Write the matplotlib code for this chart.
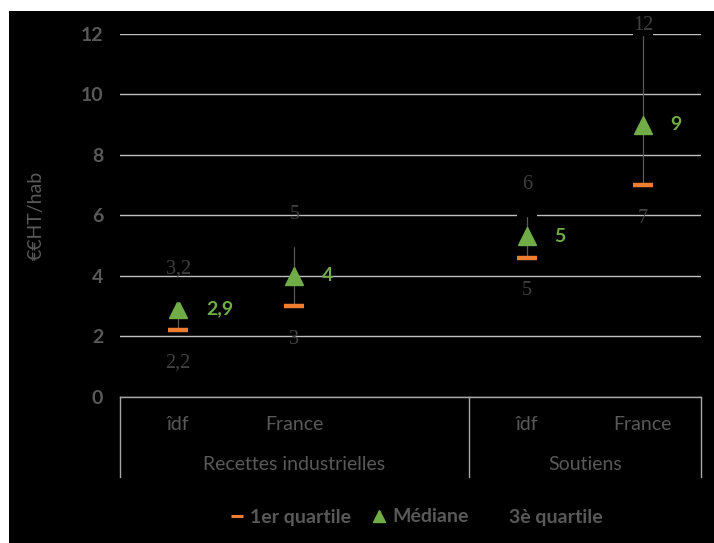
import matplotlib
matplotlib.use("Agg")
import matplotlib.pyplot as plt
import matplotlib.transforms as mtransforms

# Data
groups = ["Recettes industrielles", "Soutiens"]
categories = ["îdf", "France", "", "îdf", "France"]
cat_pos = [0, 1, 3, 4]
cat_names = ["îdf", "France", "îdf", "France"]
q1 = [2.2, 3.0, 4.6, 7.0]
median = [2.9, 4.0, 5.3, 9.0]
q3 = [3.2, 5.0, 6.0, 12.0]
q1_labels = ["2,2", "3", "5", "7"]
median_labels = ["2,9", "4", "5", "9"]
q3_labels = ["3,2", "5", "6", "12"]
yticks = [0, 2, 4, 6, 8, 10, 12]

W, H = 714, 543
fig = plt.figure(figsize=(W / 100, H / 100), dpi=100, facecolor="white")
bg = fig.add_axes([9 / W, 0, 1 - 9 / W, (H - 11) / H], zorder=-1)
bg.set_facecolor("black")
bg.set_xticks([]); bg.set_yticks([])
for s in bg.spines.values():
    s.set_visible(False)

ax = fig.add_axes([120 / W, (H - 396.5) / H, (701 - 120) / W, (396.5 - 34) / H], zorder=1)
ax.set_facecolor("black")
ax.set_xlim(-0.5, 4.5)
ax.set_ylim(0, 12)
for s in ["left", "right", "top"]:
    ax.spines[s].set_visible(False)
ax.spines["bottom"].set_color("#a6a6a6")
ax.spines["bottom"].set_linewidth(1.0)
ax.set_yticks(yticks)
ax.set_yticklabels([str(v) for v in yticks], fontfamily="Lato", fontweight="bold",
                   fontsize=14, color="#595959")
ax.tick_params(axis="y", length=0, pad=12)
ax.set_xticks([])
ax.grid(axis="y", color="#bfbfbf", linewidth=1.0)
ax.set_axisbelow(True)

ax.set_ylabel("€€HT/hab", fontfamily="Lato", fontsize=14, color="#595959", labelpad=26)

# high-low lines
ax.vlines(cat_pos, q1, q3, color="#595959", linewidth=0.9, zorder=2)
# series
ax.plot(cat_pos, q1, linestyle="none", marker="_", markersize=14.5, markeredgewidth=3.2,
        color="#ED7D31", zorder=3, label="1er quartile")
ax.plot(cat_pos, median, linestyle="none", marker="^", markersize=13,
        color="#70AD47", zorder=3, label="Médiane")
ax.plot(cat_pos, q3, linestyle="none", marker="_", markersize=14.5, markeredgewidth=3.2,
        color="black", zorder=3, label="3è quartile")

# data labels
ytop = ax.get_ylim()[1]
for x, v, t in zip(cat_pos, q3, q3_labels):
    dy = 22 if v < ytop - 0.5 else 6
    ax.annotate(t, (x, v), xytext=(0, dy), textcoords="offset points", ha="center",
                va="center", fontfamily="Liberation Serif", fontsize=14.5, color="#404040",
                annotation_clip=False, zorder=4)
for x, v, t in zip(cat_pos, q1, q1_labels):
    ax.annotate(t, (x, v), xytext=(0, -24), textcoords="offset points", ha="center",
                va="center", fontfamily="Liberation Serif", fontsize=14.5, color="#404040",
                annotation_clip=False, zorder=4)
for x, v, t in zip(cat_pos, median, median_labels):
    ax.annotate(t, (x, v), xytext=(20, 0), textcoords="offset points", ha="left",
                va="center", fontfamily="Lato", fontweight="bold", fontsize=14,
                color="#70AD47", annotation_clip=False, zorder=4)

# category axis
trans = mtransforms.blended_transform_factory(ax.transData, ax.transAxes)
ybot = -(477 - 396.5) / (396.5 - 34)
for xs in [-0.5, 2.5, 4.5]:
    ax.plot([xs, xs], [0, ybot], transform=trans, color="#a6a6a6", linewidth=1.0,
            clip_on=False)
y_cat = -(424 - 396.5) / (396.5 - 34)
y_grp = -(465 - 396.5) / (396.5 - 34)
for x, t in zip(cat_pos, cat_names):
    ax.text(x, y_cat, t, transform=trans, ha="center", va="center", fontfamily="Lato",
            fontsize=14, color="#595959")
ax.text(1.0, y_grp, groups[0], transform=trans, ha="center", va="center",
        fontfamily="Lato", fontsize=14, color="#595959")
ax.text(3.5, y_grp, groups[1], transform=trans, ha="center", va="center",
        fontfamily="Lato", fontsize=14, color="#595959")

leg = fig.legend(loc="center", bbox_to_anchor=(417 / W, (H - 517) / H), ncol=3,
                 frameon=False, handlelength=0.65, handletextpad=0.35, columnspacing=1.1,
                 markerscale=0.62,
                 prop={"family": "Lato", "size": 14, "weight": "bold"})
for t in leg.get_texts():
    t.set_color("#595959")
for h in leg.legend_handles:
    if h.get_marker() == "_":
        h.set_markeredgewidth(2.2)

fig.savefig("out.png", dpi=100, facecolor="white")
